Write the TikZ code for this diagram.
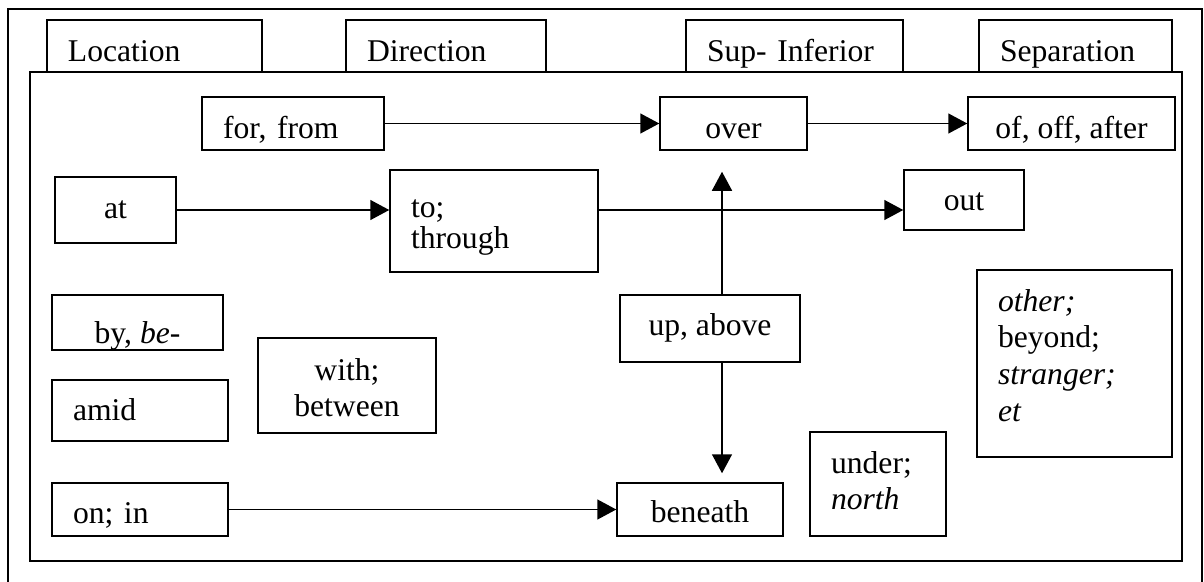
\documentclass[tikz,border=0pt]{standalone}
\usepackage{fontspec}
\setmainfont{Liberation Serif}
\usetikzlibrary{arrows.meta, positioning}

\begin{document}
\begin{tikzpicture}[transform shape,
	box/.style={draw, line width=0.85pt, fill=white, inner xsep=0.42cm, inner ysep=0pt, font=\fontsize{18}{21}\selectfont},
	lbox/.style={box, align=left, text width=#1},
	cbox/.style={box, align=center},
	sink/.style={text height=#1, text depth=0cm},
	lift/.style={text height=0cm, text depth=#1},
	link/.style={line width=0.85pt, -{Triangle[length=0.38cm, width=0.4cm]}}]
	\useasboundingbox (0, 0) rectangle (24.08, 11.62);
	% Frames:
	\draw[line width=1.1pt] (0.16, -0.2) -- (0.16, 11.44) -- (24.04, 11.44) -- (24.04, -0.2);
	\draw[line width=0.85pt] (0.6, 0.4) rectangle (23.64, 10.18);
	% Tabs:
	\node[lbox=3.46cm, sink=0.6cm, minimum height=1.04cm](location) at (3.09, 10.70){Location};
	\node[lbox=3.16cm, sink=0.6cm, minimum height=1.04cm](direction) at (8.92, 10.70){Direction};
	\node[lbox=3.50cm, sink=0.6cm, minimum height=1.04cm](supinf) at (15.89, 10.70){Sup- Inferior};
	\node[lbox=3.02cm, sink=0.6cm, minimum height=1.04cm](separation) at (21.51, 10.70){Separation};
	% Boxes:
	\node[lbox=2.80cm, sink=0.58cm, minimum height=1.06cm](forfrom) at (5.86, 9.15){for, from};
	\node[cbox, sink=0.58cm, minimum width=2.94cm, minimum height=1.06cm](over) at (14.67, 9.15){over};
	\node[cbox, sink=0.58cm, minimum width=4.14cm, minimum height=1.06cm](offafter) at (21.43, 9.15){of, off, after};
	\node[cbox, sink=0.32cm, minimum width=2.42cm, minimum height=1.32cm](at) at (2.31, 7.42){at};
	\node[lbox=3.32cm, lift=0.16cm, minimum height=2.04cm, font=\fontsize{18}{18}\selectfont](through) at (9.88, 7.20){to;\\ through};
	\node[cbox, sink=0.4cm, minimum width=2.40cm, minimum height=1.20cm](out) at (19.28, 7.62){out};
	\node[cbox, sink=0.82cm, minimum width=3.42cm, minimum height=1.10cm](bybe) at (2.75, 5.17){by, \textit{be}-};
	\node[lbox=2.68cm, sink=0.38cm, minimum height=1.22cm](amid) at (2.80, 3.41){amid};
	\node[lbox=2.72cm, align=center, lift=0.22cm, minimum height=1.90cm](withbetween) at (6.94, 3.91){with;\\ between};
	\node[cbox, sink=0.26cm, minimum width=3.60cm, minimum height=1.34cm](upabove) at (14.20, 5.05){up, above};
	\node[lbox=3.06cm, lift=2.1cm, minimum height=3.74cm](other) at (21.49, 4.35){\textit{other;}\\ beyond;\\ \textit{stranger;}\\ \textit{et}};
	\node[lbox=2.68cm, sink=0.54cm, minimum height=1.06cm](onin) at (2.80, 1.43){on; in};
	\node[cbox, sink=0.5cm, minimum width=3.32cm, minimum height=1.06cm](beneath) at (14.00, 1.43){beneath};
	\node[lbox=1.88cm, lift=0.44cm, minimum height=2.08cm](under) at (17.56, 1.94){under;\\ \textit{north}};
	% Arrows:
	\coordinate (vline) at (14.44, 0);
	\draw[link] (forfrom.east) -- (over.west);
	\draw[link] (over.east) -- (offafter.west);
	\draw[link] (at.east) -- (at.east -| through.west);
	\draw[link] (through.east |- at.east) -- (out.west |- at.east);
	\draw[link, shorten >=0.42cm] (upabove.north -| vline) -- (over.south -| vline);
	\draw[link, shorten >=0.18cm] (upabove.south -| vline) -- (beneath.north -| vline);
	\draw[link] (onin.east) -- (beneath.west);
\end{tikzpicture}
\end{document}
